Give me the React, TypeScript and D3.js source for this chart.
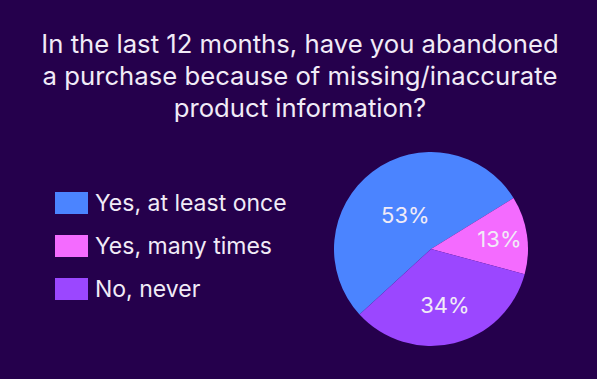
import React from 'react';
import * as d3 from 'd3';

const categories = ['Yes, at least once', 'Yes, many times', 'No, never'];
const values = [53, 13, 34];
const colors = ['#4B84FF', '#F46BFF', '#9B47FF'];
const titleLines = [
  'In the last 12 months, have you abandoned',
  'a purchase because of missing/inaccurate',
  'product information?',
];

export default function App() {
  const W = 597;
  const H = 379;
  const cx = 431;
  const cy = 249;
  const R = 97;
  const startAngle = (-132.5 * Math.PI) / 180;
  const arcs = d3
    .pie<number>()
    .sort(null)
    .startAngle(startAngle)
    .endAngle(startAngle + 2 * Math.PI)(values);
  const arc = d3.arc<d3.PieArcDatum<number>>().innerRadius(0).outerRadius(R);
  const legendY = d3.scalePoint<string>().domain(categories).range([203, 289]);
  const textColor = '#F1EBF7';
  const font = 'Inter, "Noto Sans", sans-serif';

  return (
    <div style={{ position: 'absolute', left: 0, top: 0 }}>
      <svg width={W} height={H} style={{ display: 'block' }}>
        <rect x={0} y={0} width={W} height={H} fill="#25004C" />
        {titleLines.map((t, i) => (
          <text
            key={i}
            x={300}
            y={53 + i * 32}
            textAnchor="middle"
            fill={textColor}
            fontFamily={font}
            fontSize={25.7}
          >
            {t}
          </text>
        ))}
        {categories.map((c, i) => (
          <g key={c} transform={`translate(0,${legendY(c)})`}>
            <rect x={55} y={-11} width={33} height={22} fill={colors[i]} />
            <text
              x={95}
              y={0}
              dy="0.35em"
              fill={textColor}
              fontFamily={font}
              fontSize={23}
            >
              {c}
            </text>
          </g>
        ))}
        <g transform={`translate(${cx},${cy})`}>
          {arcs.map((a, i) => (
            <path key={i} d={arc(a) || ''} fill={colors[i]} />
          ))}
          {arcs.map((a, i) => {
            const half = (a.endAngle - a.startAngle) / 2;
            const mid = (a.endAngle + a.startAngle) / 2;
            const dist = ((2 * R * Math.sin(half)) / (3 * half)) * 1.1;
            return (
              <text
                key={'l' + i}
                x={dist * Math.sin(mid)}
                y={-dist * Math.cos(mid)}
                dy="0.35em"
                textAnchor="middle"
                fill={textColor}
                fontFamily={font}
                fontSize={22}
              >
                {values[i]}%
              </text>
            );
          })}
        </g>
      </svg>
    </div>
  );
}
